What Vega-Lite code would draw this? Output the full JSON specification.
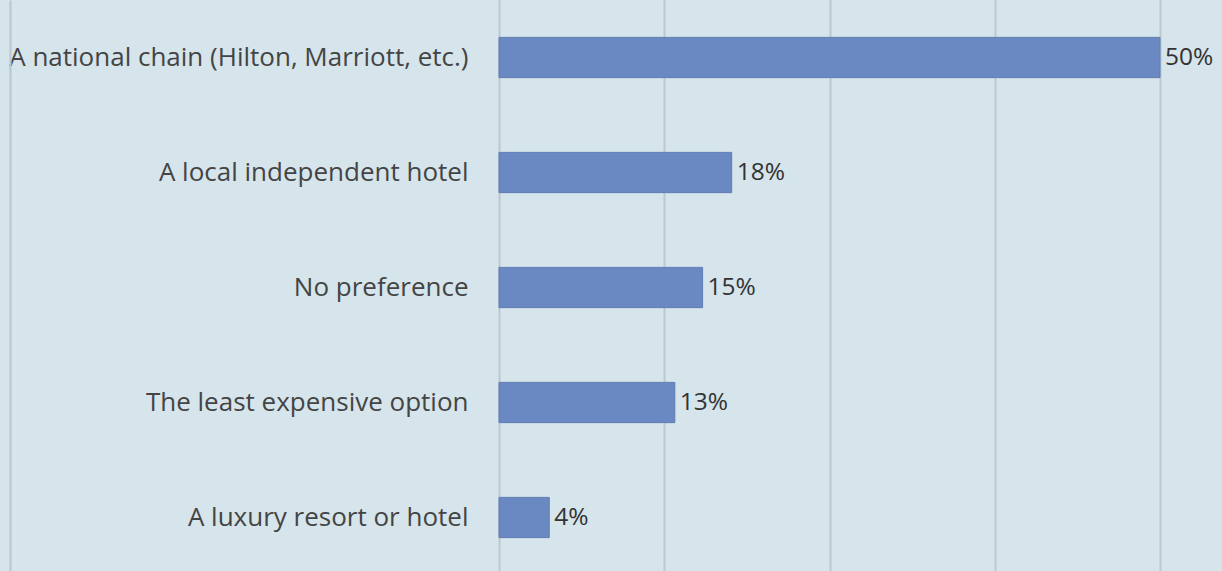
{
  "$schema": "https://vega.github.io/schema/vega-lite/v6.json",
  "autosize": {"type": "none"},
  "padding": {"left": 499, "top": 0, "right": 62, "bottom": 0},
  "width": 661,
  "height": 571,
  "background": "#d6e4eb",
  "config": {"view": {"stroke": null}, "font": "Open Sans"},
  "data": {"values": [
    {"option": "A national chain (Hilton, Marriott, etc.)", "pct": 50, "label": "50%"},
    {"option": "A local independent hotel", "pct": 17.6, "label": "18%"},
    {"option": "No preference", "pct": 15.4, "label": "15%"},
    {"option": "The least expensive option", "pct": 13.3, "label": "13%"},
    {"option": "A luxury resort or hotel", "pct": 3.8, "label": "4%"}
  ]},
  "encoding": {
    "y": {"field": "option", "type": "nominal", "sort": null,
      "scale": {"range": [0, 575], "paddingInner": 0.65, "paddingOuter": 0.325},
      "axis": {"title": null, "ticks": false, "domain": true, "domainColor": "#b9c6ce", "domainWidth": 2, "offset": 489,
        "labelPadding": -458, "labelAlign": "right", "labelFontSize": 26, "labelColor": "#444444", "labelFont": "Open Sans", "labelLimit": 600}},
    "x": {"field": "pct", "type": "quantitative",
      "scale": {"domain": [0, 50], "nice": false},
      "axis": {"title": null, "labels": false, "ticks": false, "domain": false, "values": [0, 12.5, 25, 37.5, 50],
        "grid": true, "gridColor": "#bcc8d0", "gridWidth": 2}}
  },
  "layer": [
    {"mark": {"type": "bar", "color": "#6a88c1", "stroke": "#5f7db4", "strokeWidth": 1}},
    {"mark": {"type": "text", "align": "left", "dx": 5, "fontSize": 24.5, "color": "#333333", "font": "Open Sans"},
      "encoding": {"text": {"field": "label"}}}
  ]
}
